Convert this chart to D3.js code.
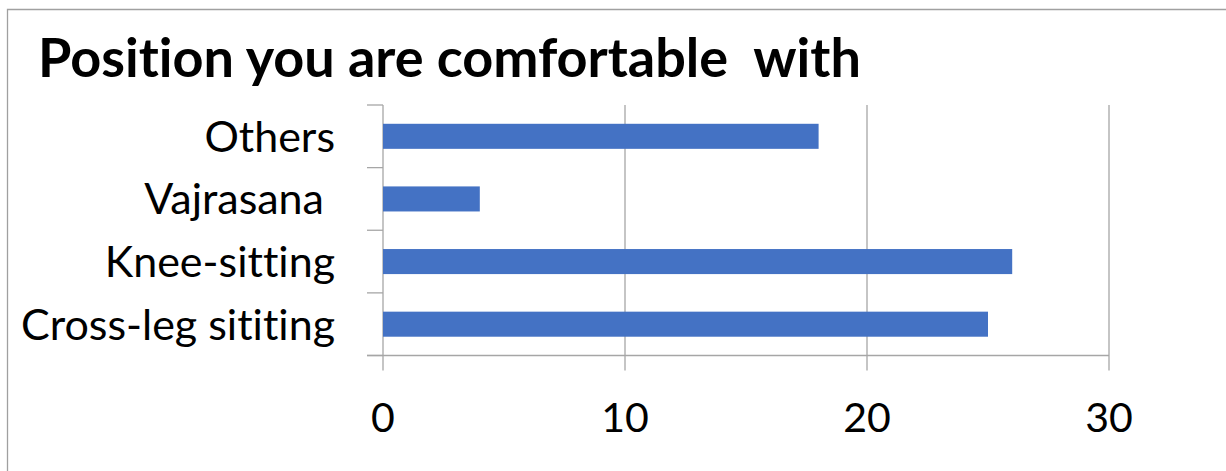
<!DOCTYPE html>
<html>
<head>
<meta charset="utf-8">
<script src="https://cdn.jsdelivr.net/npm/d3@7"></script>
<style>
  html, body { margin: 0; padding: 0; background: #fff; }
  svg { display: block; }
  text { font-variant-ligatures: none; font-feature-settings: "liga" 0; }
</style>
</head>
<body>
<svg id="chart" width="1226" height="471"></svg>
<script>
// Survey answers: comfortable sitting position
const categories = ["Others", "Vajrasana ", "Knee-sitting", "Cross-leg sititing"];
const counts = [18, 4, 26, 25];
const xTicks = [0, 10, 20, 30];
const title = "Position you are comfortable\u00a0 with";

const W = 1226, H = 471;
const svg = d3.select("#chart");
const font = "Lato, 'Noto Sans', sans-serif";
const gridColor = "#a6a6a6";

// chart frame
svg.append("path")
  .attr("d", `M${W + 2},9.5 H7.5 V${H + 2}`)
  .attr("fill", "none")
  .attr("stroke", "#a0a0a0")
  .attr("stroke-width", 1.3);

svg.append("text")
  .attr("x", 38).attr("y", 77)
  .attr("font-family", font)
  .attr("font-weight", 700)
  .attr("font-size", 54)
  .attr("fill", "#000")
  .text(title);

const plot = { left: 383, right: 1109, top: 105, bottom: 355.5 };

const x = d3.scaleLinear().domain([0, 30]).range([plot.left, plot.right]);
const y = d3.scaleBand().domain(categories)
  .range([plot.top, plot.bottom])
  .paddingInner(0.6).paddingOuter(0.3);

// vertical gridlines (extend below the axis as tick marks)
svg.append("g").selectAll("line").data(xTicks).join("line")
  .attr("x1", d => x(d)).attr("x2", d => x(d))
  .attr("y1", plot.top).attr("y2", plot.bottom + 15)
  .attr("stroke", gridColor).attr("stroke-width", 1.3);

// category axis ticks at band boundaries
const bounds = categories.map(c => y(c) - y.step() * y.paddingInner() / 2);
bounds.push(plot.bottom);
svg.append("g").selectAll("line").data(bounds).join("line")
  .attr("x1", plot.left - 16).attr("x2", plot.left)
  .attr("y1", d => d).attr("y2", d => d)
  .attr("stroke", gridColor).attr("stroke-width", 1.3);

// value axis baseline
svg.append("line")
  .attr("x1", plot.left - 16).attr("x2", plot.right)
  .attr("y1", plot.bottom).attr("y2", plot.bottom)
  .attr("stroke", gridColor).attr("stroke-width", 1.3);

// bars
svg.append("g").selectAll("rect").data(categories).join("rect")
  .attr("x", x(0))
  .attr("y", d => y(d))
  .attr("width", (d, i) => x(counts[i]) - x(0))
  .attr("height", y.bandwidth())
  .attr("fill", "#4472c4");

// category labels
svg.append("g").selectAll("text").data(categories).join("text")
  .attr("x", 335)
  .attr("y", d => y(d) + y.bandwidth() / 2)
  .attr("dy", "0.36em")
  .attr("text-anchor", "end")
  .attr("font-family", font)
  .attr("font-size", 43)
  .attr("fill", "#000")
  .style("white-space", "pre")
  .text(d => d);

// value tick labels
svg.append("g").selectAll("text").data(xTicks).join("text")
  .attr("x", d => x(d))
  .attr("y", 432)
  .attr("text-anchor", "middle")
  .attr("font-family", font)
  .attr("font-size", 41)
  .attr("fill", "#000")
  .text(d => d);
</script>
</body>
</html>
